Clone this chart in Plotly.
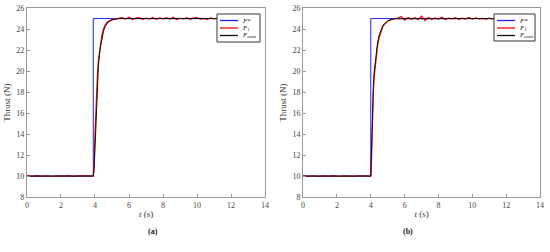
"""Thrust step response, panels (a) and (b)."""

import plotly.graph_objects as go

# ---- data -------------------------------------------------------------
t_flat_pre = [0.0, 0.3, 0.6, 0.9, 1.2, 1.5, 1.8, 2.1, 2.4, 2.7, 3.0, 3.3, 3.6]
red_pre_a = [10.02, 9.97, 10.04, 9.98, 10.03, 9.96, 10.02, 9.99, 10.04, 9.97, 10.02, 9.98, 10.01]
red_pre_b = [10.01, 9.98, 10.03, 9.97, 10.02, 9.98, 10.04, 9.96, 10.02, 9.99, 9.97, 10.03, 10.0]

t_flat_post = [5.6, 5.8, 6.0, 6.2, 6.4, 6.6, 6.8, 7.0, 7.2, 7.4, 7.6, 7.8, 8.0, 8.2, 8.4, 8.6, 8.8,
               9.0, 9.2, 9.4, 9.6, 9.8, 10.0, 10.2, 10.4, 10.6, 10.8, 11.0, 11.2, 11.4, 11.6, 11.8, 12.0]
red_post_a = [25.08, 24.95, 25.12, 24.9, 25.05, 25.1, 24.93, 25.04, 24.96, 25.1, 24.92, 25.06, 24.97,
              25.09, 24.94, 25.13, 24.9, 25.03, 24.96, 25.08, 24.93, 25.05, 25.1, 24.95, 25.02, 24.92,
              25.07, 24.96, 25.04, 24.97, 25.03, 24.98, 25.0]
red_post_b = [25.05, 25.2, 24.85, 25.1, 24.95, 25.08, 24.9, 25.22, 24.8, 25.1, 24.93, 25.06, 24.96,
              25.12, 24.9, 25.05, 24.97, 25.09, 24.92, 25.04, 24.95, 25.1, 24.94, 25.06, 24.97, 25.02,
              24.95, 25.04, 24.98, 25.02, 24.99, 25.01, 25.0]

# panel (a): reference steps at 3.9 s
t_ref_a = [0.0, 3.9, 3.9, 12.0]
f_ref_a = [10, 10, 25, 25]
t_rise_a = [3.9, 3.95, 4.0, 4.05, 4.1, 4.15, 4.2, 4.3, 4.4, 4.5, 4.6, 4.7, 4.8, 5.0, 5.2, 5.4]
red_rise_a = [10, 11.2, 14.0, 16.6, 18.5, 19.9, 21.0, 22.5, 23.4, 24.0, 24.4, 24.6, 24.75, 24.9, 24.97, 25.0]
nom_rise_a = [10, 10.6, 12.8, 15.6, 17.8, 19.3, 20.5, 22.1, 23.1, 23.8, 24.25, 24.5, 24.7, 24.87, 24.95, 25.0]

# panel (b): reference steps at 4.0 s
t_ref_b = [0.0, 4.0, 4.0, 12.0]
f_ref_b = [10, 10, 25, 25]
t_rise_b = [4.0, 4.05, 4.1, 4.15, 4.2, 4.3, 4.4, 4.5, 4.6, 4.7, 4.8, 5.0, 5.2, 5.4]
red_rise_b = [10, 12.0, 15.5, 17.9, 19.4, 21.2, 22.4, 23.2, 23.8, 24.2, 24.45, 24.75, 24.9, 24.97]
nom_rise_b = [10, 12.8, 16.3, 18.5, 19.9, 21.6, 22.7, 23.45, 23.95, 24.3, 24.5, 24.78, 24.92, 24.98]

legend_names = ["<i>F</i>*", "<i>F</i><sub>1</sub>", "<i>F</i><sub>nom</sub>"]
legend_colors = ["#2020ff", "#ff0000", "#111111"]

# ---- figure -----------------------------------------------------------
SERIF = "Liberation Serif"
W, H = 550, 252

fig = go.Figure()

panels = [
    ("x", "y", t_ref_a, f_ref_a, red_pre_a, t_rise_a, red_rise_a, nom_rise_a, red_post_a),
    ("x2", "y2", t_ref_b, f_ref_b, red_pre_b, t_rise_b, red_rise_b, nom_rise_b, red_post_b),
]

for xa, ya, t_ref, f_ref, red_pre, t_rise, red_rise, nom_rise, red_post in panels:
    fig.add_trace(go.Scatter(x=t_ref, y=f_ref, mode="lines", name=legend_names[0],
                             line=dict(color=legend_colors[0], width=1), xaxis=xa, yaxis=ya))
    fig.add_trace(go.Scatter(x=t_flat_pre + t_rise + t_flat_post,
                             y=red_pre + red_rise + red_post, mode="lines", name=legend_names[1],
                             line=dict(color=legend_colors[1], width=1.2), xaxis=xa, yaxis=ya))
    fig.add_trace(go.Scatter(x=[0.0] + t_rise + [12.0],
                             y=[10] + nom_rise + [25], mode="lines", name=legend_names[2],
                             line=dict(color=legend_colors[2], width=1), xaxis=xa, yaxis=ya))


# hand-drawn legend boxes (plotly's own legend is too tall at this size)
def px_x(v):
    return v / W


def px_y(v):
    return 1 - v / H


shapes = []
annotations = []
for left, top, right, bottom in [(217, 14, 260, 42), (494, 14, 535, 41)]:
    shapes.append(dict(type="rect", xref="paper", yref="paper",
                       x0=px_x(left), x1=px_x(right), y0=px_y(bottom), y1=px_y(top),
                       line=dict(color="#333333", width=1), fillcolor="white", layer="above"))
    for i, (name, color) in enumerate(zip(legend_names, legend_colors)):
        row = top + 6.5 + i * 7.5
        shapes.append(dict(type="line", xref="paper", yref="paper",
                           x0=px_x(left + 3), x1=px_x(left + 21), y0=px_y(row), y1=px_y(row),
                           line=dict(color=color, width=1.3), layer="above"))
        annotations.append(dict(text=name, x=px_x(left + 23), y=px_y(row), xref="paper", yref="paper",
                                xanchor="left", yanchor="middle", showarrow=False,
                                font=dict(family=SERIF, size=7, color="#222222")))

annotations += [
    dict(text="<b>(a)</b>", x=px_x(146), y=px_y(238), xref="paper", yref="paper",
         showarrow=False, font=dict(family=SERIF, size=8, color="#222")),
    dict(text="<b>(b)</b>", x=px_x(415), y=px_y(238), xref="paper", yref="paper",
         showarrow=False, font=dict(family=SERIF, size=8, color="#222")),
]

axis_style = dict(
    showline=True, mirror=True, linecolor="#9a9a9a", linewidth=1, automargin=False,
    ticks="inside", ticklen=3, tickcolor="#9a9a9a", showgrid=False, zeroline=False,
    tickfont=dict(family=SERIF, size=8, color="#444444"),
)
title_font = dict(family=SERIF, size=9, color="#333333")

fig.update_layout(
    width=W, height=H,
    margin=dict(l=0, r=0, t=0, b=0),
    paper_bgcolor="white", plot_bgcolor="white",
    font=dict(family=SERIF),
    showlegend=False,
    xaxis=dict(domain=[0.049, 0.482], range=[0, 14], dtick=2, anchor="y",
               title=dict(text="<i>t</i> (s)", font=title_font, standoff=2), **axis_style),
    yaxis=dict(domain=[0.218, 0.968], range=[8, 26], dtick=2, anchor="x",
               title=dict(text="Thrust (N)", font=title_font, standoff=4), **axis_style),
    xaxis2=dict(domain=[0.551, 0.982], range=[0, 14], dtick=2, anchor="y2",
                title=dict(text="<i>t</i> (s)", font=title_font, standoff=2), **axis_style),
    yaxis2=dict(domain=[0.218, 0.968], range=[8, 26], dtick=2, anchor="x2",
                title=dict(text="Thrust (N)", font=title_font, standoff=4), **axis_style),
    shapes=shapes,
    annotations=annotations,
)

# the page's default body margin would push the 550x252 figure off the window
fig.write_html("out.html", config={"displayModeBar": False},
               post_script="document.body.style.margin = '0';")
